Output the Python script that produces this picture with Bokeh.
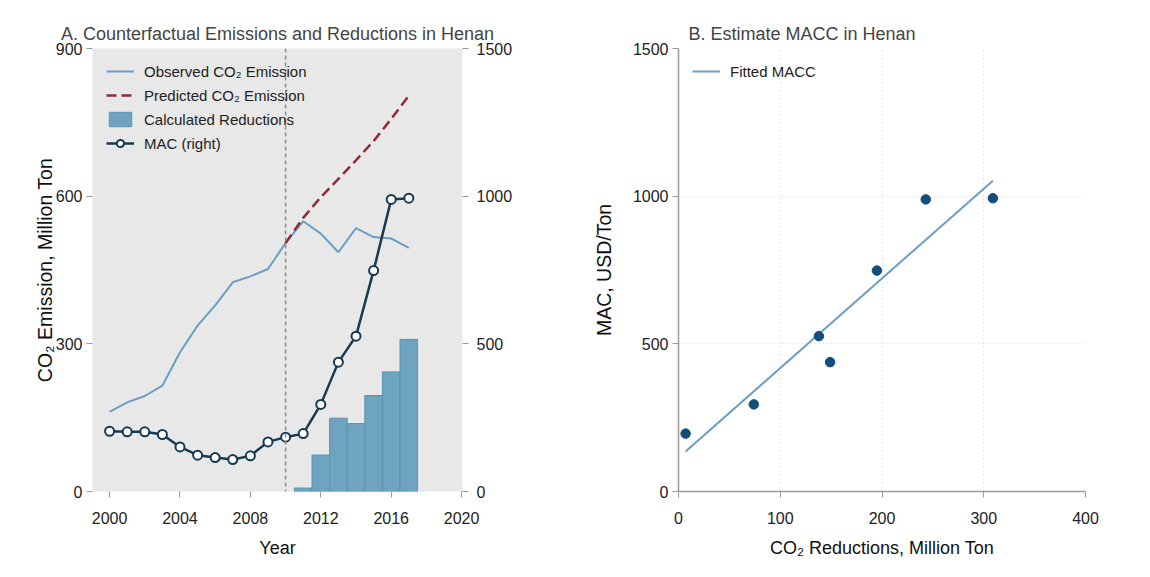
import numpy as np
from bokeh.plotting import figure
from bokeh.layouts import row
from bokeh.models import Range1d, LinearAxis, Span, Legend, LegendItem, FixedTicker
from bokeh.embed import file_html
from bokeh.resources import INLINE

# ---------------- data ----------------
years = [2000, 2001, 2002, 2003, 2004, 2005, 2006, 2007, 2008,
         2009, 2010, 2011, 2012, 2013, 2014, 2015, 2016, 2017]
observed = [162, 181, 194, 215, 283, 337, 378, 425, 437,
            452, 505, 549, 524, 486, 535, 517, 514, 495]
mac = [204, 202, 202, 193, 151, 123, 115, 108, 121,
       168, 184, 196, 295, 438, 526, 748, 989, 993]
pred_years = [2010, 2011, 2012, 2013, 2014, 2015, 2016, 2017]
predicted = [505, 556, 598, 635, 673, 712, 757, 804]
red_years = [2011, 2012, 2013, 2014, 2015, 2016, 2017]
reductions = [7, 74, 149, 138, 195, 243, 309]
mac_red = [196, 295, 438, 526, 748, 989, 993]

x_ticks_a = [2000, 2004, 2008, 2012, 2016, 2020]
left_ticks_a = [0, 300, 600, 900]
right_ticks_a = [0, 500, 1000, 1500]
x_ticks_b = [0, 100, 200, 300, 400]
y_ticks_b = [0, 500, 1000, 1500]

FONT = "Liberation Sans"
C_OBS = "#6a9fc3"
C_PRED = "#8f2b34"
C_BAR = "#6fa4c1"
C_BAR_EDGE = "#5b92b4"
C_MAC = "#163a52"
C_PT = "#124d7c"
AX_GREY = "#9a9a9a"


def style_axis(ax, size="16px", label_size="18px"):
    ax.major_label_text_font = FONT
    ax.major_label_text_font_size = size
    ax.major_label_text_color = "#222222"
    ax.axis_label_text_font = FONT
    ax.axis_label_text_font_size = label_size
    ax.axis_label_text_font_style = "normal"
    ax.axis_label_text_color = "#111111"
    ax.minor_tick_line_color = None
    ax.major_tick_line_color = AX_GREY
    ax.major_tick_in = 0
    ax.major_tick_out = 6


def style_legend(leg):
    leg.background_fill_alpha = 0
    leg.border_line_color = None
    leg.label_text_font = FONT
    leg.label_text_font_size = "15px"
    leg.label_text_color = "#222222"
    leg.glyph_width = 28
    leg.glyph_height = 18
    leg.spacing = 6
    leg.label_standoff = 10
    leg.margin = 14
    leg.padding = 1


# ---------------- panel A ----------------
pa = figure(frame_width=370, frame_height=443, output_backend="svg",
            toolbar_location=None,
            x_range=Range1d(1999.03, 2020.05), y_range=Range1d(0, 900),
            min_border_left=92, min_border_right=111,
            min_border_top=48, min_border_bottom=70)
pa.extra_y_ranges = {"mac": Range1d(0, 1500)}
pa.border_fill_color = "white"
pa.background_fill_color = "#e8e8e8"
pa.outline_line_color = None
pa.xgrid.visible = False
pa.ygrid.visible = False

pa.title.text = "A. Counterfactual Emissions and Reductions in Henan"
pa.title.text_font = FONT
pa.title.text_font_size = "18px"
pa.title.text_font_style = "normal"
pa.title.align = "center"
pa.title.offset = 0
pa.title.standoff = 10

pa.xaxis.ticker = FixedTicker(ticks=x_ticks_a)
pa.yaxis.ticker = FixedTicker(ticks=left_ticks_a)
pa.xaxis.axis_label = "Year"
pa.yaxis.axis_label = "CO\u2082 Emission, Million Ton"
pa.xaxis.axis_line_color = None
pa.yaxis.axis_line_color = None
style_axis(pa.xaxis[0])
style_axis(pa.yaxis[0], label_size="19.5px")
pa.xaxis.major_label_standoff = 14
pa.xaxis.axis_label_standoff = 11
pa.yaxis.major_label_standoff = 4
pa.yaxis.axis_label_standoff = -3

rax = LinearAxis(y_range_name="mac", ticker=FixedTicker(ticks=right_ticks_a))
style_axis(rax)
rax.axis_line_color = None
rax.major_label_standoff = 8
pa.add_layout(rax, "right")

bars = pa.vbar(x=red_years, top=reductions, width=1.0, bottom=0,
               fill_color=C_BAR, line_color=C_BAR_EDGE, line_width=1)
obs = pa.line(years, observed, line_color=C_OBS, line_width=2)
pred = pa.line(pred_years, predicted, line_color=C_PRED, line_width=2.5,
               line_dash="10 5")
vline = Span(location=2010, dimension="height", line_color="#8c8c8c",
             line_dash="4 3", line_width=1.5)
pa.add_layout(vline)
mline = pa.line(years, mac, y_range_name="mac", line_color=C_MAC,
                line_width=2.5)
mpts = pa.scatter(years, mac, y_range_name="mac", size=9,
                  fill_color="white", line_color=C_MAC, line_width=2)

leg_a = Legend(items=[
    LegendItem(label="Observed CO\u2082 Emission", renderers=[obs]),
    LegendItem(label="Predicted CO\u2082 Emission", renderers=[pred]),
    LegendItem(label="Calculated Reductions", renderers=[bars]),
    LegendItem(label="MAC (right)", renderers=[mline, mpts]),
], location="top_left")
style_legend(leg_a)
pa.add_layout(leg_a)

# ---------------- panel B ----------------
pb = figure(frame_width=407, frame_height=443, output_backend="svg",
            toolbar_location=None,
            x_range=Range1d(0, 400), y_range=Range1d(0, 1500),
            min_border_left=105, min_border_right=50,
            min_border_top=48, min_border_bottom=70)
pb.background_fill_color = "white"
pb.border_fill_color = "white"
pb.outline_line_color = None

pb.title.text = "B. Estimate MACC in Henan"
pb.title.text_font = FONT
pb.title.text_font_size = "18px"
pb.title.text_font_style = "normal"
pb.title.align = "left"
pb.title.offset = 10
pb.title.standoff = 10

pb.xaxis.ticker = FixedTicker(ticks=x_ticks_b)
pb.yaxis.ticker = FixedTicker(ticks=y_ticks_b)
pb.xaxis.axis_label = "CO\u2082 Reductions, Million Ton"
pb.yaxis.axis_label = "MAC, USD/Ton"
style_axis(pb.xaxis[0])
style_axis(pb.yaxis[0], label_size="19.5px")
pb.xaxis.axis_line_color = AX_GREY
pb.yaxis.axis_line_color = AX_GREY
pb.xaxis.axis_line_width = 1.5
pb.yaxis.axis_line_width = 1.5
pb.xaxis.major_label_standoff = 14
pb.xaxis.axis_label_standoff = 11
pb.yaxis.major_label_standoff = 4
pb.yaxis.axis_label_standoff = 15
for g in (pb.xgrid, pb.ygrid):
    g.grid_line_color = "#d4d4d4"
    g.grid_line_dash = "1 3"
    g.grid_line_width = 1.2

coef = np.polyfit(reductions, mac_red, 1)
fit_x = [min(reductions), max(reductions)]
fit_y = [coef[0] * v + coef[1] for v in fit_x]
fit = pb.line(fit_x, fit_y, line_color=C_OBS, line_width=2)
pb.scatter(reductions, mac_red, size=9.5, fill_color=C_PT, line_color=C_PT)

leg_b = Legend(items=[LegendItem(label="Fitted MACC", renderers=[fit])],
               location="top_left")
style_legend(leg_b)
pb.add_layout(leg_b)

layout = row(pa, pb)
open("out.html", "w").write(file_html(layout, INLINE))
